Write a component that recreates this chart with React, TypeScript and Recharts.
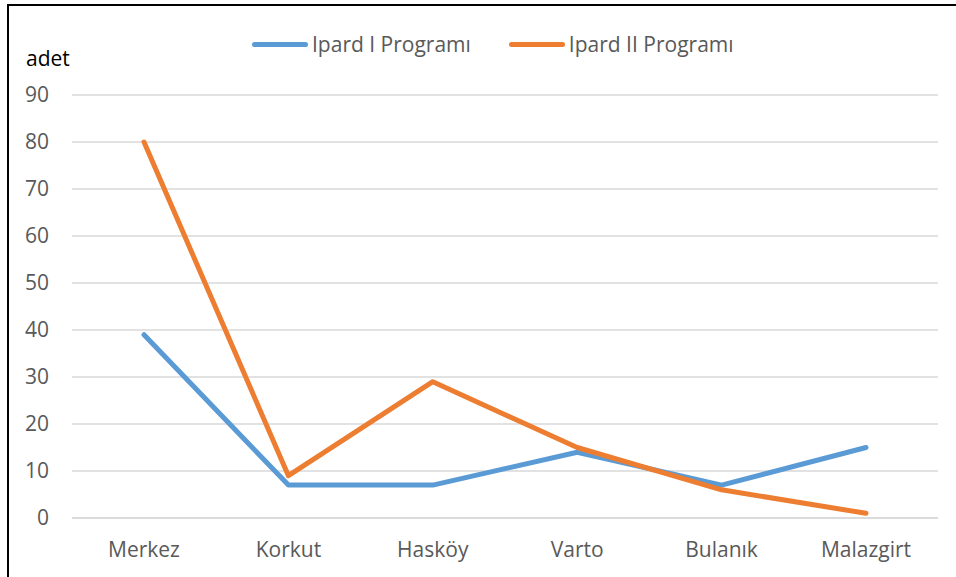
import { LineChart, Line, XAxis, YAxis, CartesianGrid } from "recharts";

const districts = ["Merkez", "Korkut", "Hasköy", "Varto", "Bulanık", "Malazgirt"];
const ipard1 = [39, 7, 7, 14, 7, 15];
const ipard2 = [80, 9, 29, 15, 6, 1];
const yTicks = [0, 10, 20, 30, 40, 50, 60, 70, 80, 90];

const SERIES = [
  { key: "ipard1", name: "Ipard I Programı", color: "#5B9BD5" },
  { key: "ipard2", name: "Ipard II Programı", color: "#ED7D31" },
];

const FONT = "'Open Sans', sans-serif";
const TEXT = "#595959";
const GRID = "#D9D9D9";
const FS = 21;

const data = districts.map((name, i) => ({
  name,
  ipard1: ipard1[i],
  ipard2: ipard2[i],
}));

function LegendRow() {
  return (
    <div style={{ display: "flex", gap: 38, fontFamily: FONT, fontSize: FS, color: TEXT, lineHeight: "26px" }}>
      {SERIES.map((s) => (
        <div key={s.key} style={{ display: "flex", alignItems: "center" }}>
          <span
            style={{
              display: "inline-block",
              width: 56,
              height: 5,
              borderRadius: 3,
              background: s.color,
              marginRight: 4,
            }}
          />
          {s.name}
        </div>
      ))}
    </div>
  );
}

export default function App() {
  return (
    <div
      style={{
        position: "fixed",
        top: 0,
        left: 0,
        width: 956,
        height: 577,
        background: "#fff",
        overflow: "hidden",
      }}
    >
      <div
        style={{
          position: "absolute",
          left: 7,
          top: 4,
          width: 980,
          height: 620,
          border: "2px solid #000",
        }}
      />
      <div
        style={{
          position: "absolute",
          left: 26,
          top: 44,
          fontFamily: FONT,
          fontSize: FS,
          color: "#000",
          lineHeight: "28px",
        }}
      >
        adet
      </div>
      <div style={{ position: "absolute", left: 252, top: 31 }}>
        <LegendRow />
      </div>
      <div style={{ position: "absolute", top: 0, left: 0 }}>
        <LineChart
          width={956}
          height={577}
          data={data}
          margin={{ top: 95, right: 18, bottom: 19, left: 0 }}
        >
          <CartesianGrid vertical={false} stroke={GRID} strokeWidth={1.5} />
          <XAxis
            dataKey="name"
            height={40}
            padding={{ left: 72, right: 72 }}
            axisLine={{ stroke: GRID, strokeWidth: 1.5 }}
            tickLine={false}
            tickMargin={18}
            tick={{ fill: TEXT, fontSize: FS, fontFamily: FONT }}
          />
          <YAxis
            width={72}
            domain={[0, 90]}
            ticks={yTicks}
            axisLine={false}
            tickLine={false}
            tickMargin={17}
            tick={{ fill: TEXT, fontSize: FS, fontFamily: FONT }}
          />
          {SERIES.map((s) => (
            <Line
              key={s.key}
              type="linear"
              dataKey={s.key}
              name={s.name}
              stroke={s.color}
              strokeWidth={5}
              strokeLinecap="round"
              strokeLinejoin="round"
              dot={false}
              activeDot={false}
              isAnimationActive={false}
            />
          ))}
        </LineChart>
      </div>
    </div>
  );
}
